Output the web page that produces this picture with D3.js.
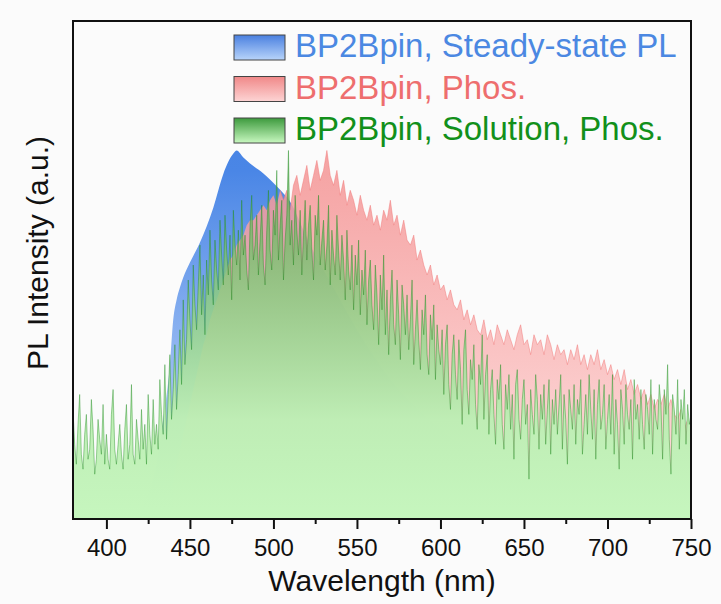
<!DOCTYPE html>
<html>
<head>
<meta charset="utf-8">
<script src="https://cdn.jsdelivr.net/npm/d3@7"></script>
<style>
  body { margin: 0; background: #fbfbfb; }
  svg { display: block; font-family: "Liberation Sans", Arial, sans-serif; }
</style>
</head>
<body>
<div id="chart"></div>
<script>
// axis ticks
const xTicks = [400, 450, 500, 550, 600, 650, 700, 750];
const xMinorTicks = [425, 475, 525, 575, 625, 675, 725];

// BP2Bpin, Steady-state PL (smooth spectrum)
const steadyWl = [380, 400, 415, 420, 425, 430, 434, 438, 440, 442, 444, 446, 450, 456, 464, 470, 476, 478, 482, 486, 494, 504, 510, 518, 525, 535, 550, 570, 600, 650, 700, 750];
const steadyVal = [0.5, 0.5, 1, 2, 5, 11, 20, 31, 40, 44, 46.5, 48.5, 51.5, 55.5, 62.5, 69.3, 73.4, 74, 72.6, 71.4, 69.4, 66.1, 63.7, 58, 53, 47, 38, 28, 18, 8, 4, 2];

// BP2Bpin, Phos. (2 nm steps from 440 nm)
const phosStart = 440;
const phosStep = 2;
const phosVal = [
  8, 11, 14, 17, 20, 23, 26, 29, 32, 35,
  37, 40, 42, 44, 46, 48, 50, 52, 53, 55,
  56, 57, 59, 60, 60, 61, 62, 63, 62, 64,
  65, 63, 66, 64, 66, 62, 67, 69, 65, 68,
  71, 66, 69, 72, 68, 70, 74, 69, 67, 70,
  65, 68, 63, 66, 64, 61, 65, 62, 60, 63,
  59, 61, 58, 62, 60, 64, 59, 61, 57, 60,
  56, 55, 57, 52, 54, 51, 49, 51, 47, 49,
  46, 47, 44, 46, 43, 42, 44, 40, 42, 39,
  41, 38, 37, 40, 36, 38, 35, 39, 37, 35,
  38, 36, 34, 37, 39, 35, 36, 33, 37, 35,
  36, 33, 37, 35, 32, 35, 33, 34, 31, 34,
  32, 35, 31, 33, 30, 33, 31, 34, 30, 32,
  29, 31, 28, 30, 27, 30, 26, 28, 25, 27,
  24, 26, 23, 25, 22, 24, 23, 25, 22, 24,
  21, 20, 22, 18, 20, 17
];

// BP2Bpin, Solution, Phos. (1 nm steps from 380 nm)
const solStart = 380;
const solStep = 1;
const solVal = [
  22, 15, 11, 19, 25, 13, 10, 17, 21, 12,
  14, 24, 18, 9, 12, 20, 16, 13, 23, 11,
  17, 12, 10, 21, 26, 14, 11, 15, 19, 13,
  10, 18, 23, 12, 15, 27, 13, 11, 20, 16,
  12, 22, 14, 19, 11, 25, 17, 13, 24, 15,
  19, 14, 28, 21, 17, 31, 16, 25, 33, 20,
  26, 35, 22, 29, 38, 27, 44, 31, 36, 48,
  40, 34, 51, 43, 38, 47, 55, 41, 49, 37,
  52, 45, 58, 48, 43, 56, 50, 46, 60, 53,
  47, 61, 54, 49, 57, 44, 62, 55, 51, 58,
  48, 64, 53, 57, 50, 46, 59, 65, 52, 55,
  61, 49, 56, 63, 51, 47, 58, 66, 54, 50,
  62, 57, 70, 52, 59, 64, 48, 56, 61, 74,
  55, 60, 51, 65, 58, 53, 62, 49, 57, 64,
  52, 59, 63, 54, 48, 61, 57, 65, 51, 56,
  60, 50, 55, 63, 47, 58, 53, 49, 61, 54,
  48, 57, 52, 44, 58, 50, 46, 55, 42, 53,
  47, 56, 41, 50, 45, 54, 39, 48, 52, 43,
  38, 51, 45, 35, 49, 42, 53, 37, 46, 33,
  44, 50, 39, 35, 48, 41, 32, 47, 43, 37,
  45, 34, 40, 48, 31, 38, 44, 36, 30, 42,
  37, 45, 33, 29, 41, 36, 43, 28, 39, 34,
  31, 38, 25, 35, 39, 27, 22, 33, 37, 29,
  24, 36, 30, 19, 34, 38, 26, 21, 32, 28,
  35, 23, 18, 31, 27, 37, 20, 29, 33, 17,
  26, 30, 21, 15, 28, 24, 31, 19, 14, 27,
  22, 29, 18, 25, 12, 27, 30, 20, 16, 24,
  28, 19, 23, 8, 26, 21, 17, 29, 24, 14,
  25, 20, 27, 15, 22, 28, 13, 24, 19, 26,
  17, 23, 29, 14, 25, 20, 11, 26, 22, 18,
  27, 15, 24, 21, 28, 13, 19, 25, 17, 29,
  22, 16, 26, 12, 23, 28, 18, 21, 27, 14,
  20, 25, 17, 29, 13, 24, 19, 10, 26, 22,
  15, 27, 21, 18, 24, 12, 28, 20, 23, 16,
  26, 19, 14, 25, 22, 17, 28, 13, 24, 20,
  18, 27, 23, 12, 26, 21, 31, 16, 9, 25,
  22, 17, 28, 14, 24, 20, 26, 15, 23, 19,
  21
];

const legendLabels = ['BP2Bpin, Steady-state PL', 'BP2Bpin, Phos.', 'BP2Bpin, Solution, Phos.'];
const legendColors = ['#4b88e2', '#ee6e6e', '#12901a'];

const margin = { top: 21, right: 30, bottom: 85, left: 73 };
const width = 721 - margin.left - margin.right;
const height = 604 - margin.top - margin.bottom;

const svg = d3
  .select('#chart')
  .append('svg')
  .attr('width', 721)
  .attr('height', 604);

const defs = svg.append('defs');

// vertical gradients for the filled spectra
function addGradient(id, stops, y2) {
  defs
    .append('linearGradient')
    .attr('id', id)
    .attr('gradientUnits', y2 ? 'userSpaceOnUse' : 'objectBoundingBox')
    .attr('x1', 0)
    .attr('y1', 0)
    .attr('x2', 0)
    .attr('y2', y2 || 1)
    .selectAll('stop')
    .data(stops)
    .enter()
    .append('stop')
    .attr('offset', (d) => d.offset)
    .attr('stop-color', (d) => d.color)
    .attr('stop-opacity', (d) => (d.opacity == null ? 1 : d.opacity));
}

addGradient('blue-grad', [
  { offset: '0%', color: '#3f7ee0' },
  { offset: '30%', color: '#4a86e6' },
  { offset: '100%', color: '#d2e2fb' },
], height);
addGradient('pink-grad', [
  { offset: '0%', color: '#f08080' },
  { offset: '35%', color: '#f59a9a' },
  { offset: '100%', color: '#ffdcdc' },
], height);
addGradient('green-grad', [
  { offset: '0%', color: '#2f8f2f', opacity: 0.7 },
  { offset: '45%', color: '#78bd6c', opacity: 0.8 },
  { offset: '80%', color: '#bdeeb4', opacity: 0.97 },
  { offset: '100%', color: '#c6f6be', opacity: 1 },
], height);

addGradient('blue-swatch', [
  { offset: '0%', color: '#4a80e0' },
  { offset: '100%', color: '#b8d4fa' },
]);
addGradient('pink-swatch', [
  { offset: '0%', color: '#f08888' },
  { offset: '100%', color: '#fdd4d4' },
]);
addGradient('green-swatch', [
  { offset: '0%', color: '#3d9a3d' },
  { offset: '100%', color: '#c8f8c0' },
]);

defs
  .append('clipPath')
  .attr('id', 'plot-clip')
  .append('rect')
  .attr('width', width)
  .attr('height', height);

const g = svg
  .append('g')
  .attr('transform', `translate(${margin.left},${margin.top})`);

const x = d3.scaleLinear().domain([380, 750]).range([0, width]);
const y = d3.scaleLinear().domain([0, 100]).range([height, 0]);

const steady = steadyWl.map((wl, i) => ({ wl, v: steadyVal[i] }));
const phos = phosVal.map((v, i) => ({ wl: phosStart + i * phosStep, v }));
const sol = solVal.map((v, i) => ({ wl: solStart + i * solStep, v }));

const area = d3
  .area()
  .x((d) => x(d.wl))
  .y0(y(0))
  .y1((d) => y(d.v));

const line = d3
  .line()
  .x((d) => x(d.wl))
  .y((d) => y(d.v));

const plot = g.append('g').attr('clip-path', 'url(#plot-clip)');

plot
  .append('path')
  .datum(steady)
  .attr('fill', 'url(#blue-grad)')
  .attr('d', area.curve(d3.curveMonotoneX));

area.curve(d3.curveLinear);

plot
  .append('path')
  .datum(phos)
  .attr('fill', 'url(#pink-grad)')
  .attr('fill-opacity', 0.85)
  .attr('d', area);

plot
  .append('path')
  .datum(phos.filter((d) => d.wl >= 504))
  .attr('fill', 'none')
  .attr('stroke', '#f07a7a')
  .attr('stroke-width', 0.5)
  .attr('d', line);

plot
  .append('path')
  .datum(sol)
  .attr('fill', 'url(#green-grad)')
  .attr('d', area);

plot
  .append('path')
  .datum(sol)
  .attr('fill', 'none')
  .attr('stroke', '#1e8c1e')
  .attr('stroke-width', 0.6)
  .attr('stroke-opacity', 0.7)
  .attr('d', line);

// frame
g.append('rect')
  .attr('width', width)
  .attr('height', height)
  .attr('fill', 'none')
  .attr('stroke', '#111')
  .attr('stroke-width', 2);

// bottom axis, major and minor ticks
const xAxis = g
  .append('g')
  .attr('transform', `translate(0,${height})`)
  .call(d3.axisBottom(x).tickValues(xTicks).tickSize(10).tickPadding(10).tickFormat(d3.format('d')));

xAxis.select('.domain').remove();
xAxis.selectAll('line').attr('stroke', '#111').attr('stroke-width', 2);
xAxis
  .selectAll('text')
  .attr('fill', '#111')
  .style('font-size', '24px');

const xMinor = g
  .append('g')
  .attr('transform', `translate(0,${height})`)
  .call(d3.axisBottom(x).tickValues(xMinorTicks).tickSize(5).tickFormat(''));

xMinor.select('.domain').remove();
xMinor.selectAll('line').attr('stroke', '#111').attr('stroke-width', 2);

// axis titles
svg
  .append('text')
  .attr('x', margin.left + width / 2)
  .attr('y', 591)
  .attr('text-anchor', 'middle')
  .attr('fill', '#111')
  .style('font-size', '30px')
  .text('Wavelength (nm)');

svg
  .append('text')
  .attr('transform', 'translate(48,253) rotate(-90)')
  .attr('text-anchor', 'middle')
  .attr('fill', '#111')
  .style('font-size', '30px')
  .text('PL Intensity (a.u.)');

// legend
const swatches = ['url(#blue-swatch)', 'url(#pink-swatch)', 'url(#green-swatch)'];
const legend = svg
  .selectAll('.legend')
  .data(legendLabels)
  .enter()
  .append('g')
  .attr('class', 'legend')
  .attr('transform', (d, i) => `translate(234,${35 + i * 41.5})`);

legend
  .append('rect')
  .attr('width', 51)
  .attr('height', 25)
  .attr('fill', (d, i) => swatches[i])
  .attr('stroke', '#444')
  .attr('stroke-width', 1);

legend
  .append('text')
  .attr('x', 61)
  .attr('y', 22)
  .attr('fill', (d, i) => legendColors[i])
  .style('font-size', '33px')
  .text((d) => d);
</script>
</body>
</html>
